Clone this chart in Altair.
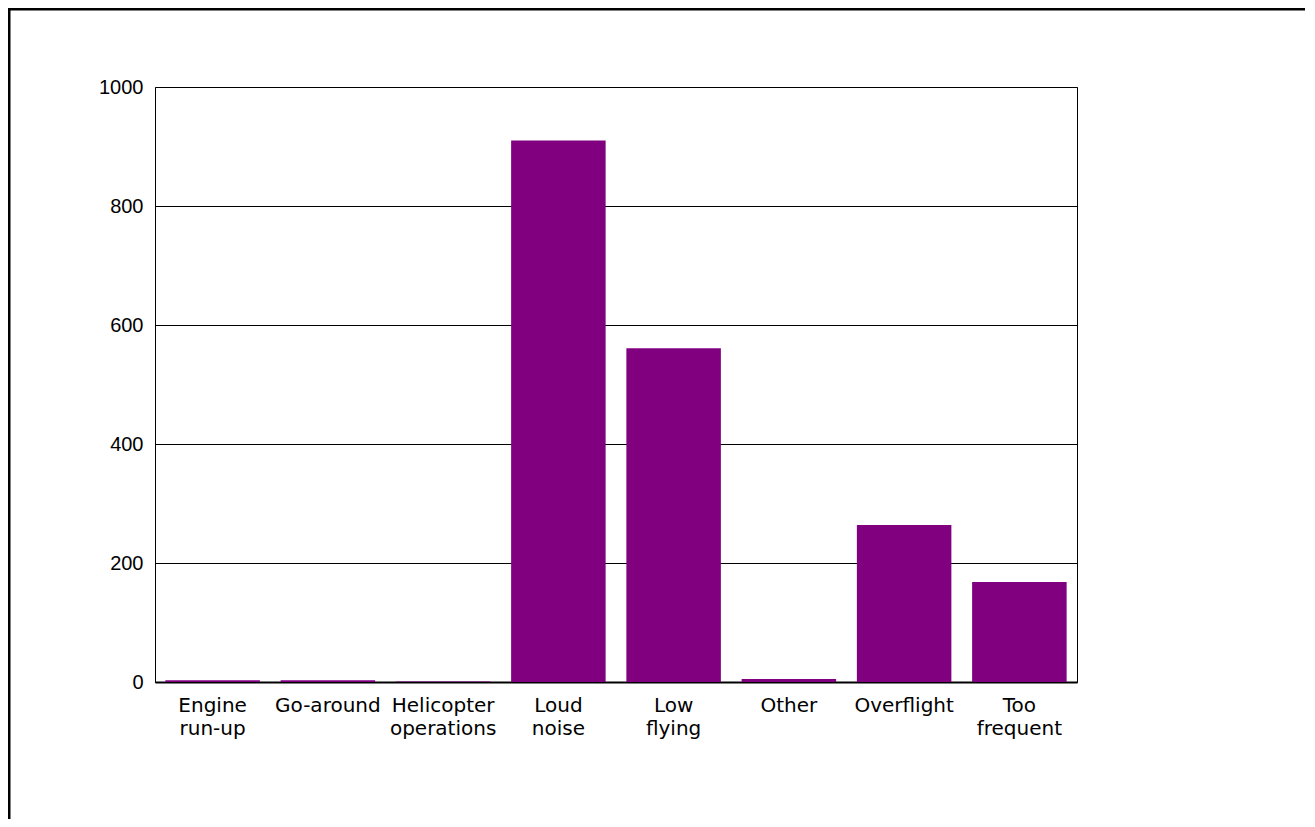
import altair as alt
import pandas as pd

categories = ["Engine\nrun-up", "Go-around", "Helicopter\noperations", "Loud\nnoise",
              "Low\nflying", "Other", "Overflight", "Too\nfrequent"]
values = [3, 3, 1, 910, 561, 5, 264, 168]
y_ticks = [0, 200, 400, 600, 800, 1000]

W, H = 922, 595
PL, PT = 147, 79
PR, PB = 1297 - PL - W, 811 - PT - H

df = pd.DataFrame({"cat": categories, "val": values})

bars = alt.Chart(df).mark_bar(color="#800080").encode(
    x=alt.X("cat:N", sort=categories, title=None,
            scale=alt.Scale(paddingInner=0.18, paddingOuter=0.09),
            axis=alt.Axis(labelAngle=0, ticks=False, domainColor="black", domainWidth=2,
                          labelFont="DejaVu Sans", labelFontSize=20, labelColor="black",
                          labelPadding=13, labelLineHeight=23, labelBaseline="top",
                          labelExpr="split(datum.label, '\\n')")),
    y=alt.Y("val:Q", title=None,
            scale=alt.Scale(domain=[0, 1000], nice=False),
            axis=alt.Axis(values=y_ticks, format="d", ticks=False, domain=False,
                          gridColor="black", gridOpacity=1, gridWidth=1,
                          labelFont="Liberation Sans", labelFontSize=20,
                          labelColor="black", labelPadding=12)),
)

border_data = alt.Data(values=[{"a": 1}])
top_border = alt.Chart(border_data).mark_rule(color="black", strokeWidth=3).encode(
    x=alt.value(-PL), x2=alt.value(W + PR), y=alt.value(-PT + 1))
left_border = alt.Chart(border_data).mark_rule(color="black", strokeWidth=3).encode(
    x=alt.value(-PL + 1), y=alt.value(-PT), y2=alt.value(H + PB))

chart = alt.layer(bars, top_border, left_border).properties(
    width=W, height=H,
    background="white",
    autosize=alt.AutoSizeParams(type="none"),
    padding={"left": PL, "top": PT, "right": PR, "bottom": PB},
).configure_view(stroke="black", strokeWidth=1)

chart.save("out.html", embed_options={"renderer": "svg", "actions": False})
